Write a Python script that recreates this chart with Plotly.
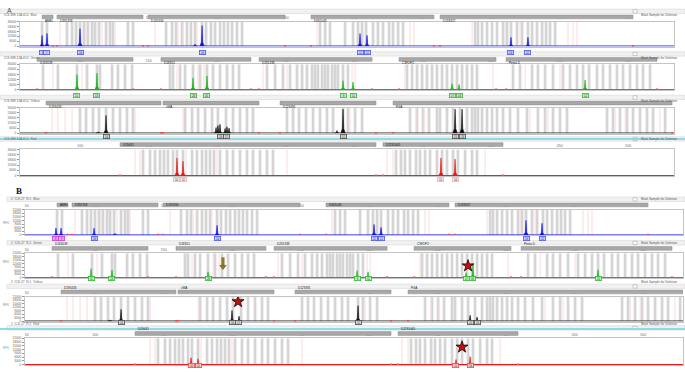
import plotly.graph_objects as go

W, H = 685, 372

# ---------------- axis values ----------------
x_ticks = [50, 100, 150, 200, 250, 300, 350, 400, 450, 500]
a_x_range = [56.0, 533.4]
b_x_range = [48.7, 529.0]
a_y_max = 30000
b_y_max = 21000
a_y_ticks = [0, 6000, 12000, 18000, 24000, 30000]
b_y_ticks = [0, 3000, 6000, 9000, 12000, 15000, 18000, 21000]

# ---------------- loci (bp) ----------------
blue_loci = ["AMEL", "D3S1358", "D1S1656", "D6S1043", "D13S317"]
blue_loci_start = [72.1, 83.0, 149.4, 268.4, 362.6]
blue_loci_end = [80.1, 145.8, 249.5, 358.2, 503.5]

green_loci = ["D16S539", "D18S51", "D2S1338", "CSF1PO", "Penta D"]
green_loci_start = [68.4, 158.9, 230.5, 332.7, 410.8]
green_loci_end = [138.5, 224.6, 313.0, 403.5, 521.0]

black_loci = ["D19S433", "vWA", "D12S391", "FGA"]
black_loci_start = [75.0, 160.4, 245.8, 328.3]
black_loci_end = [158.9, 230.5, 315.9, 532.0]

red_loci = ["D2S441", "D22S1045"]
red_loci_start = [129.0, 321.0]
red_loci_end = [315.9, 408.6]

# ---------------- allele bins (grey) and marker lines (pink), bp ----------------
blue_bins = [72.1, 75.7, 90.3, 94.0, 96.9, 99.8, 102.7, 105.6, 108.6, 110.8, 113.7, 118.8,
             121.7, 123.9, 134.8, 138.5, 162.6, 167.0, 169.9, 174.3, 177.9, 180.8, 183.8,
             188.9, 191.8, 195.4, 198.4, 202.0, 204.9, 207.8, 210.8, 214.4, 218.1, 275.0,
             278.7, 282.3, 293.3, 299.1, 302.7, 305.7, 308.6, 313.7, 317.3, 321.0, 325.4,
             328.3, 332.0, 335.6, 388.2, 390.3, 393.3, 396.9, 400.6, 404.2, 408.6, 411.5,
             414.4, 418.8, 422.5, 426.8, 429.8, 433.4, 437.1, 440.0, 442.9, 446.6]
blue_marks = [85.2, 104.2, 115.9, 125.4, 154.6, 171.3, 175.0, 185.2, 272.8, 340.7, 343.6,
              386.0, 410.1, 421.0, 456.0, 459.7, 462.6]

green_bins = [72.8, 83.7, 97.6, 104.9, 112.2, 114.4, 123.2, 127.5, 132.7, 137.8, 165.5,
              167.7, 172.8, 176.5, 182.3, 187.4, 192.5, 196.9, 202.0, 207.1, 211.5, 215.9,
              236.3, 242.2, 248.0, 253.1, 258.2, 261.9, 265.5, 269.2, 271.4, 273.5, 276.5,
              278.7, 280.8, 283.8, 286.0, 288.1, 291.8, 295.4, 338.5, 342.2, 345.8, 349.5,
              353.1, 356.8, 360.4, 364.1, 367.7, 371.4, 375.0, 378.7, 382.3, 386.0, 389.6,
              415.9, 421.0, 429.8, 434.1, 439.3, 445.1, 452.4, 457.5, 462.6, 467.0, 471.4,
              477.2, 481.6, 486.7, 491.8, 496.2, 501.3, 506.4, 510.8, 515.9]
green_marks = [80.1, 101.3, 170.6, 185.9, 190.3, 233.4, 250.9, 298.4, 300.6, 337.0, 401.3,
               424.7, 450.2]

black_bins = [99.8, 104.2, 109.3, 113.7, 118.8, 123.9, 129.0, 134.1, 138.5, 176.5, 181.6,
              186.0, 191.1, 196.2, 200.5, 206.4, 211.5, 216.6, 221.7, 226.1, 250.9, 255.3,
              259.7, 264.8, 269.9, 275.0, 280.1, 284.5, 291.8, 295.4, 300.6, 305.7, 340.7,
              345.8, 350.2, 354.6, 360.4, 362.6, 367.7, 372.1, 377.2, 382.3, 386.0, 388.2,
              390.3, 393.3, 396.9, 400.6, 404.2, 408.6, 413.7, 419.5, 426.1, 434.1, 439.3,
              445.1, 450.2, 455.3, 484.5, 488.9, 494.0, 499.1, 503.5, 508.6, 513.7, 518.1,
              526.9]
black_marks = [79.4, 83.7, 88.9, 94.0, 140.0, 175.0, 296.9, 345.1, 350.9, 428.3, 441.4,
               490.4, 497.7, 523.2]

red_bins = [145.8, 150.9, 154.6, 158.2, 161.1, 164.0, 167.7, 170.6, 175.0, 181.6, 185.2,
            188.9, 191.8, 194.7, 197.6, 202.0, 207.1, 211.5, 216.6, 221.7, 226.1, 231.2,
            236.3, 240.7, 330.5, 334.1, 337.0, 340.7, 345.1, 348.0, 351.7, 355.3, 360.4,
            364.1, 367.7, 372.1, 375.7, 380.9, 386.0, 389.6]
red_marks = [140.0, 143.6, 177.2, 199.8, 250.9, 323.9, 328.3, 395.5]

# ---------------- peaks: panel A ----------------
a_blue_bp = [72.1, 75.7, 99.8, 183.8, 188.9, 304.2, 309.3, 414.4, 426.8]
a_blue_rfu = [13200, 15600, 21600, 2400, 25200, 15600, 13200, 10800, 10800]
a_blue_allele = ["X", "Y", "16", "", "14", "11", "12", "19", "22"]

a_green_bp = [97.6, 112.2, 182.3, 192.5, 291.8, 299.1, 371.4, 376.5, 468.5]
a_green_rfu = [18000, 19500, 13800, 16200, 10500, 9000, 6900, 6000, 11400]
a_green_allele = ["11", "13", "28", "31", "9", "11", "17", "18", "12"]

a_black_bp = [113.0, 118.8, 199.1, 200.5, 202.0, 205.7, 207.1, 208.6, 287.4, 291.8, 373.6, 378.7]
a_black_rfu = [1500, 21000, 6600, 9000, 10500, 5400, 7500, 6000, 3000, 28500, 28500, 28500]
a_black_allele = ["", "14", "", "", "16", "", "17", "", "", "12", "21", "23"]

a_red_bp = [170.6, 175.0, 363.3, 373.6]
a_red_rfu = [20100, 16500, 20100, 18900]
a_red_allele = ["10", "11", "15", "16"]

# ---------------- peaks: panel B ----------------
b_blue_bp = [71.3, 75.0, 99.1, 114.4, 188.9, 303.5, 308.6, 414.4, 426.1]
b_blue_rfu = [5700, 5700, 5700, 1300, 8000, 8800, 6300, 12200, 9700]
b_blue_allele = ["X", "Y", "16", "", "14", "11", "12", "19", "22"]

b_green_bp = [96.9, 112.2, 182.3, 291.1, 299.1, 370.6, 375.7, 467.0]
b_green_rfu = [7600, 6700, 5000, 5900, 5000, 4200, 11800, 6700]
b_green_allele = ["11", "13", "28", "9", "11", "17", "18", "12"]

b_black_bp = [110.8, 118.8, 199.8, 204.9, 291.8, 373.6, 378.7]
b_black_rfu = [1000, 10100, 9200, 4200, 13400, 5000, 3400]
b_black_allele = ["", "14", "16", "17", "12", "21", "23"]

b_red_bp = [169.9, 175.0, 363.3, 373.6]
b_red_rfu = [5500, 4600, 4000, 6300]
b_red_allele = ["10", "11", "15", "16"]

# annotations on panel B
b_star_row = [6, 7, 8]
b_star_bp = [372.1, 204.2, 367.7]
b_star_rfu = [10100, 16800, 14000]
b_arrow_bp = 193.2
b_arrow_from = 17500
b_arrow_to = 8400

header_texts = ["ICS-WB 12A 4C4  Blue", "ICS-WB 12A 4C4  Green", "ICS-WB 12A 4C4  Yellow",
                "ICS-WB 12A 4C4  Red", "2  ICS-27  R-1  Blue", "2  ICS-27  R-1  Green",
                "2  ICS-27  R-1  Yellow", "2  ICS-27  R-1  Red"]

# ---------------- styling / layout ----------------
STY = {
    "blue": dict(c="#1414e8", lbg="#c7cdff", lbd="#4a58e6",
                 loci=(blue_loci, blue_loci_start, blue_loci_end), bins=blue_bins, marks=blue_marks),
    "green": dict(c="#14b414", lbg="#b9f0b9", lbd="#38b838",
                  loci=(green_loci, green_loci_start, green_loci_end), bins=green_bins, marks=green_marks),
    "black": dict(c="#111111", lbg="#d6d6d6", lbd="#505050",
                  loci=(black_loci, black_loci_start, black_loci_end), bins=black_bins, marks=black_marks),
    "red": dict(c="#e61414", lbg="#ffc6c6", lbd="#e85050",
                loci=(red_loci, red_loci_start, red_loci_end), bins=red_bins, marks=red_marks),
}

rows = [
    ("A", "blue", 20, 45, a_blue_bp, a_blue_rfu, a_blue_allele),
    ("A", "green", 63, 89, a_green_bp, a_green_rfu, a_green_allele),
    ("A", "black", 107, 133, a_black_bp, a_black_rfu, a_black_allele),
    ("A", "red", 149, 176, a_red_bp, a_red_rfu, a_red_allele),
    ("B", "blue", 210, 236, b_blue_bp, b_blue_rfu, b_blue_allele),
    ("B", "green", 254, 279, b_green_bp, b_green_rfu, b_green_allele),
    ("B", "black", 298, 323, b_black_bp, b_black_rfu, b_black_allele),
    ("B", "red", 340, 367, b_red_bp, b_red_rfu, b_red_allele),
]


def py(px):
    return 1 - px / H


def pxx(px):
    return px / W


FONT = "Liberation Sans, Arial, sans-serif"
fig = go.Figure()
shapes, annots = [], []
layout_axes = {}

for i, (panel, dye, top, base, pk_bp, pk_rfu, pk_al) in enumerate(rows, start=1):
    s = STY[dye]
    xa, ya = f"x{i}", f"y{i}"
    xk = "xaxis" if i == 1 else f"xaxis{i}"
    yk = "yaxis" if i == 1 else f"yaxis{i}"
    if panel == "A":
        xdom, xr, ymax, yt = [20 / W, 674 / W], a_x_range, a_y_max, a_y_ticks
    else:
        xdom, xr, ymax, yt = [25 / W, 683 / W], b_x_range, b_y_max, b_y_ticks

    layout_axes[xk] = dict(domain=xdom, range=xr, side="top", anchor=ya, tickvals=x_ticks,
                           ticktext=[str(v) for v in x_ticks], tickfont=dict(size=3.5, color="#666"),
                           ticks="", showgrid=False, zeroline=False, showline=True,
                           linecolor="#c4c4c4", linewidth=1, mirror=True, fixedrange=True)
    layout_axes[yk] = dict(domain=[py(base), py(top)], range=[-ymax * 0.02, ymax], anchor=xa,
                           tickvals=yt, ticktext=[str(v) for v in yt],
                           tickfont=dict(size=3.2, color="#666"), ticks="outside",
                           ticklen=2, tickcolor="#999", showgrid=False, zeroline=False,
                           showline=True, linecolor="#c4c4c4", linewidth=1, mirror=True,
                           fixedrange=True)

    # bins (grey) and pink marker lines
    fig.add_trace(go.Bar(x=s["bins"], y=[ymax] * len(s["bins"]), width=2.0, xaxis=xa, yaxis=ya,
                         marker=dict(color="#d5d5d5", line=dict(width=0)), showlegend=False,
                         hoverinfo="skip"))
    fig.add_trace(go.Bar(x=s["marks"], y=[ymax] * len(s["marks"]), width=0.7, xaxis=xa, yaxis=ya,
                         marker=dict(color="#fadada", line=dict(width=0)), showlegend=False,
                         hoverinfo="skip"))
    # baseline
    fig.add_trace(go.Scatter(x=xr, y=[0, 0], mode="lines", xaxis=xa, yaxis=ya,
                             line=dict(color=s["c"], width=1), showlegend=False, hoverinfo="skip"))
    # small red markers at locus edges on baseline
    names, st, en = s["loci"]
    fig.add_trace(go.Scatter(x=list(st) + list(en), y=[0] * (2 * len(st)), mode="markers",
                             xaxis=xa, yaxis=ya, marker=dict(symbol="square", size=2.2,
                                                             color="#ec5050"),
                             showlegend=False, hoverinfo="skip"))
    # peaks
    px_, py_ = [], []
    for b, h in zip(pk_bp, pk_rfu):
        px_ += [b - 1.6, b - 0.5, b, b + 0.5, b + 1.6, None]
        py_ += [0, 0.18 * h, h, 0.18 * h, 0, None]
    fig.add_trace(go.Scatter(x=px_, y=py_, mode="lines", fill="toself", fillcolor=s["c"],
                             line=dict(color=s["c"], width=0.6), xaxis=xa, yaxis=ya,
                             showlegend=False, hoverinfo="skip"))

    # allele label boxes
    for j, (b, al) in enumerate(zip(pk_bp, pk_al)):
        if not al:
            continue
        bg, bd = s["lbg"], s["lbd"]
        if panel == "B" and dye == "blue" and al in ("X", "Y"):
            bg, bd = "#f29af2", "#c83cc8"
        if panel == "A" and dye == "red":
            bg, bd = "#fde3e3", "#f3b3b3"
        annots.append(dict(x=b, xref=xa, y=py(base + 3.4), yref="paper", text=al,
                           showarrow=False, font=dict(size=2.8, color="#333", family=FONT),
                           bgcolor=bg, bordercolor=bd, borderwidth=0.8, borderpad=0.4,
                           width=5, height=3))

    # locus header bars
    for nm, a0, a1 in zip(names, st, en):
        shapes.append(dict(type="rect", xref=xa, yref="paper", x0=a0, x1=a1,
                           y0=py(top - 3), y1=py(top - 6.8), fillcolor="#a8a8a8",
                           line=dict(color="#8c8c8c", width=0.5), layer="above"))
        annots.append(dict(x=a0, xref=xa, y=py(top - 4.9), yref="paper", text=nm,
                           xanchor="left", xshift=1, showarrow=False,
                           font=dict(size=3, color="#111", family=FONT)))

    # sample header strip
    x_left = 0.0 if panel == "A" else 7 / W
    shapes.append(dict(type="rect", xref="paper", yref="paper", x0=x_left, x1=1,
                       y0=py(top - 8.3), y1=py(top - 12.8), fillcolor="#f1f1f1",
                       line=dict(color="#d8d8d8", width=0.6), layer="below"))
    annots.append(dict(x=x_left + 2 / W, y=py(top - 10.5), xref="paper", yref="paper",
                       text=header_texts[i - 1], xanchor="left", showarrow=False,
                       font=dict(size=3.2, color="#666", family=FONT)))
    shapes.append(dict(type="rect", xref="paper", yref="paper", x0=pxx(633), x1=pxx(637),
                       y0=py(top - 8.8), y1=py(top - 12.2), fillcolor="white",
                       line=dict(color="#999", width=0.5)))
    annots.append(dict(x=pxx(639), y=py(top - 10.5), xref="paper", yref="paper",
                       text="Mark Sample for Deletion", xanchor="left", showarrow=False,
                       font=dict(size=3.2, color="#555", family=FONT)))
    if panel == "B":
        annots.append(dict(x=pxx(1), y=py((top + base) / 2), xref="paper", yref="paper",
                           text="RFU", xanchor="left", showarrow=False,
                           font=dict(size=3, color="#888" if dye != "red" else "#4bb",
                                     family=FONT)))

# stars on panel B
for r, b, v in zip(b_star_row, b_star_bp, b_star_rfu):
    fig.add_trace(go.Scatter(x=[b], y=[v], mode="markers", xaxis=f"x{r}", yaxis=f"y{r}",
                             marker=dict(symbol="star", size=9, color="#c01010",
                                         line=dict(color="#200000", width=0.8)),
                             showlegend=False, hoverinfo="skip"))

# arrow (missing allele) in panel B green row: shaft + head
ARROW_C = "#8d7b2c"
fig.add_trace(go.Scatter(x=[b_arrow_bp, b_arrow_bp],
                         y=[b_arrow_from, b_arrow_to + (b_arrow_from - b_arrow_to) * 0.2],
                         mode="lines", xaxis="x6", yaxis="y6",
                         line=dict(color=ARROW_C, width=3.2), showlegend=False,
                         hoverinfo="skip"))
fig.add_trace(go.Scatter(x=[b_arrow_bp], y=[b_arrow_to + (b_arrow_from - b_arrow_to) * 0.1],
                         mode="markers", xaxis="x6", yaxis="y6",
                         marker=dict(symbol="triangle-down", size=5.5, color=ARROW_C,
                                     line=dict(color="#4a3f10", width=0.5)),
                         showlegend=False, hoverinfo="skip"))

# panel letters
annots.append(dict(x=pxx(5), y=py(3), xref="paper", yref="paper", text="A", showarrow=False,
                   xanchor="left", font=dict(size=7, color="#555", family=FONT)))
annots.append(dict(x=pxx(14), y=py(191), xref="paper", yref="paper", text="<b>B</b>",
                   showarrow=False, xanchor="left",
                   font=dict(size=9, color="#111", family="Liberation Serif, serif")))

# cyan selection separators
for ypx in (138.5, 330.5):
    shapes.append(dict(type="line", xref="paper", yref="paper", x0=0, x1=1, y0=py(ypx),
                       y1=py(ypx), line=dict(color="#8edbe6", width=2)))

fig.update_layout(width=W, height=H, margin=dict(l=0, r=0, t=0, b=0), barmode="overlay",
                  paper_bgcolor="white", plot_bgcolor="white", shapes=shapes,
                  annotations=annots, font=dict(family=FONT), showlegend=False,
                  hovermode=False, **layout_axes)

fig.write_html("out.html", config={"displayModeBar": False, "staticPlot": True},
               post_script="document.body.style.margin='0';document.body.style.overflow='hidden';")
